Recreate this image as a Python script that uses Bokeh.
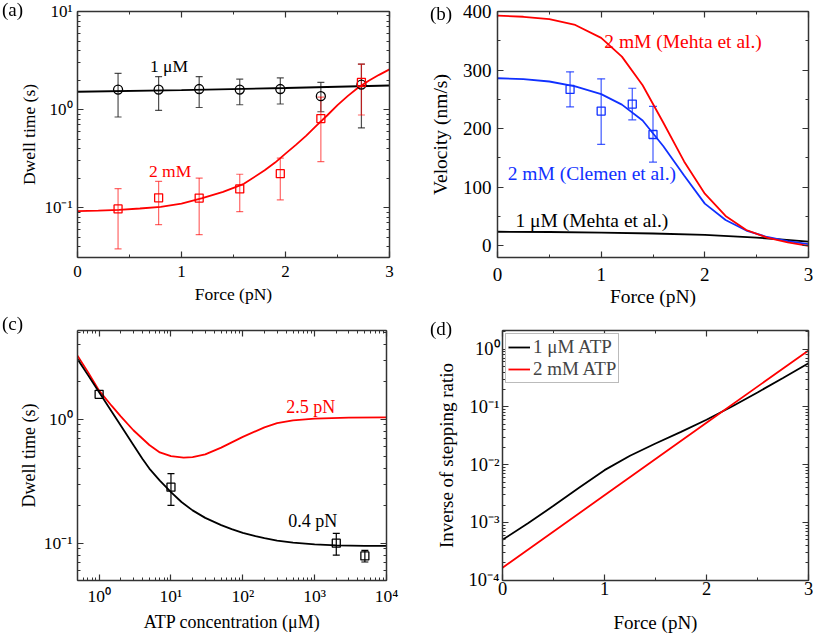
from bokeh.plotting import figure
from bokeh.models import (LinearAxis, LogAxis, SingleIntervalTicker, LogTicker,
                          CustomJSTickFormatter, Whisker, TeeHead, ColumnDataSource,
                          Label, Legend, LegendItem, Div)
from bokeh.layouts import row, column
from bokeh.embed import file_html
from bokeh.resources import INLINE

# ---------------- data ----------------
# (a) dwell time vs force
a_force = [0.39, 0.78, 1.17, 1.56, 1.95, 2.34, 2.73]
a_1uM = [1.60, 1.60, 1.62, 1.60, 1.62, 1.37, 1.80]
a_1uM_hi = [2.34, 2.17, 2.17, 2.04, 2.10, 1.89, 2.90]
a_1uM_lo = [0.84, 0.98, 1.05, 1.12, 1.14, 0.95, 0.65]
a_2mM = [0.097, 0.126, 0.125, 0.155, 0.222, 0.81, 1.89]
a_2mM_hi = [0.156, 0.185, 0.200, 0.219, 0.319, 1.34, 2.90]
a_2mM_lo = [0.038, 0.067, 0.053, 0.091, 0.120, 0.295, 0.88]
a_fit1_force = [0.0, 1.0, 2.0, 3.0]
a_fit1 = [1.52, 1.58, 1.66, 1.76]
a_fit2_force = [0.0, 0.2, 0.4, 0.6, 0.8, 1.0, 1.2, 1.4, 1.6, 1.8, 1.9, 2.0, 2.1,
                2.2, 2.3, 2.4, 2.5, 2.6, 2.7, 2.8, 2.9, 3.0]
a_fit2 = [0.092, 0.093, 0.095, 0.098, 0.102, 0.110, 0.125, 0.145, 0.175, 0.240,
          0.288, 0.355, 0.436, 0.543, 0.69, 0.87, 1.11, 1.38, 1.68, 1.97, 2.26, 2.57]

# (b) velocity vs force
b_force = [0.70, 1.00, 1.30, 1.50]
b_clemen = [267, 230, 242, 190]
b_clemen_hi = [297, 285, 269, 238]
b_clemen_lo = [237, 173, 215, 143]
b_fit_force = [0.0, 0.25, 0.5, 0.75, 1.0, 1.2, 1.4, 1.6, 1.8, 2.0, 2.2, 2.4, 2.6, 2.8, 3.0]
b_mehta_2mM = [393, 391, 387, 377, 355, 323, 274, 210, 144, 89, 51, 27, 14, 6, 0]
b_clemen_fit = [286, 284.5, 280.5, 272, 259, 241, 214, 170, 120, 72, 44, 26, 15, 8, 3]
b_mehta_1uM_force = [0.0, 0.5, 1.0, 1.5, 2.0, 2.5, 3.0]
b_mehta_1uM = [24, 23.5, 22.5, 21, 18.5, 14, 7]

# (c) dwell time vs ATP concentration
c_atp = [1, 10, 2000, 5000]
c_dwell = [1.59, 0.283, 0.100, 0.079]
c_err_atp = [10, 2000, 5000]
c_err_hi = [0.364, 0.120, 0.0875]
c_err_lo = [0.202, 0.080, 0.0705]
c_fit04_atp = [0.5, 0.7, 1, 1.5, 2, 3, 4, 5, 7, 10, 14, 20, 30, 50, 70, 100, 150,
               200, 300, 500, 1000, 2000, 5000, 10000]
c_fit_04 = [3.06, 2.27, 1.65, 1.15, 0.89, 0.62, 0.48, 0.40, 0.32, 0.258, 0.215,
            0.184, 0.160, 0.140, 0.130, 0.121, 0.114, 0.110, 0.105, 0.101, 0.098,
            0.096, 0.095, 0.095]
c_fit25_atp = [0.5, 0.7, 1, 1.5, 2, 3, 5, 7, 10, 15, 20, 30, 50, 100, 200, 300, 500,
               1000, 3000, 10000]
c_fit_25 = [3.26, 2.40, 1.70, 1.28, 1.056, 0.815, 0.62, 0.54, 0.505, 0.49, 0.495,
            0.52, 0.59, 0.72, 0.86, 0.93, 0.98, 1.01, 1.03, 1.035]

# (d) inverse stepping ratio
d_force = [0.0, 0.25, 0.5, 0.75, 1.0, 1.25, 1.5, 1.75, 2.0, 2.25, 2.5, 2.75, 3.0]
d_1uM = [5.0e-4, 9.7e-4, 1.94e-3, 3.98e-3, 8.04e-3, 1.43e-2, 2.33e-2, 3.69e-2,
         5.99e-2, 0.1018, 0.178, 0.316, 0.569]
d_2mM_force = [0.0, 1.0, 2.0, 3.0]
d_2mM = [1.65e-4, 2.95e-3, 5.3e-2, 0.95]

panel_names = ["(a)", "(b)", "(c)", "(d)"]

SERIF = "Liberation Serif"
RED = "#ff0000"
BLUE = "#1030ff"
AX = "#333333"

LOG_FMT = CustomJSTickFormatter(code="""
const e = Math.round(Math.log10(tick));
const sup = {'0':'\u2070','1':'\u00b9','2':'\u00b2','3':'\u00b3','4':'\u2074',
             '5':'\u2075','6':'\u2076','7':'\u2077','8':'\u2078','9':'\u2079','-':'\u207b'};
return '10' + String(e).split('').map(c => sup[c]).join('');
""")
BLANK_FMT = CustomJSTickFormatter(code="return '';")


def style_axis(ax, ticker, fs, labels=True, log=False, standoff=5, title_standoff=2, title_fs=None):
    ax.ticker = ticker
    ax.major_tick_in = 6
    ax.major_tick_out = 0
    ax.minor_tick_in = 3
    ax.minor_tick_out = 0
    ax.axis_line_color = AX
    ax.axis_line_width = 1.5
    ax.major_tick_line_color = AX
    ax.major_tick_line_width = 1.2
    ax.minor_tick_line_color = AX
    ax.minor_tick_line_width = 1.0
    ax.major_label_text_font = SERIF
    ax.major_label_text_color = "black"
    ax.axis_label_text_font = SERIF
    ax.axis_label_text_font_style = "normal"
    ax.axis_label_text_color = "black"
    ax.axis_label_text_font_size = title_fs or fs
    if labels:
        if log:
            ax.formatter = LOG_FMT
        ax.major_label_text_font_size = fs
        ax.major_label_standoff = standoff
        ax.axis_label_standoff = title_standoff
    else:
        ax.formatter = BLANK_FMT
        ax.major_label_text_font_size = "1px"
        ax.major_label_standoff = 0
        ax.axis_label = None


def make_fig(width, height, borders, x_range, y_range, x_log, y_log,
             x_ticker, y_ticker, fs, title_fs, xlabel, ylabel,
             x_standoffs, y_standoffs):
    l, r, t, b = borders
    p = figure(width=width, height=height, x_range=x_range, y_range=y_range,
               x_axis_type="log" if x_log else "linear",
               y_axis_type="log" if y_log else "linear",
               output_backend="svg", toolbar_location=None,
               min_border_left=l, min_border_right=r, min_border_top=t, min_border_bottom=b)
    p.grid.visible = False
    p.outline_line_color = None
    p.background_fill_color = "white"
    p.border_fill_color = "white"
    p.xaxis.axis_label = xlabel
    p.yaxis.axis_label = ylabel
    style_axis(p.xaxis[0], x_ticker, fs, log=x_log, standoff=x_standoffs[0],
               title_standoff=x_standoffs[1], title_fs=title_fs)
    style_axis(p.yaxis[0], y_ticker, fs, log=y_log, standoff=y_standoffs[0],
               title_standoff=y_standoffs[1], title_fs=title_fs)
    top = LogAxis() if x_log else LinearAxis()
    right = LogAxis() if y_log else LinearAxis()
    style_axis(top, x_ticker, fs, labels=False, log=x_log)
    style_axis(right, y_ticker, fs, labels=False, log=y_log)
    p.add_layout(top, "above")
    p.add_layout(right, "right")
    return p


def text_label(p, text, x, y, color, fs):
    p.add_layout(Label(x=x, y=y, text=text, text_font=SERIF, text_font_size=fs,
                       text_color=color, text_align="center", text_baseline="middle"))


def panel_div(text, left, top):
    return Div(text=text, width=28, height=22,
               styles={"position": "fixed", "left": f"{left}px", "top": f"{top}px",
                       "z-index": "10", "font-family": "'Liberation Serif', serif",
                       "font-size": "19px", "line-height": "20px", "color": "black",
                       "margin": "0", "padding": "0"})


lin_x = SingleIntervalTicker(interval=1, num_minor_ticks=2)
log_t = LogTicker(num_minor_ticks=10)

# ---------------- (a) ----------------
pa = make_fig(404, 315, (77, 15, 11, 53), (0, 3), (0.031, 10.001), False, True,
              lin_x, log_t, "17px", "17.5px", "Force (pN)", "Dwell time (s)",
              (8, 4), (5, 2))
pa.line(a_fit1_force, a_fit1, line_color="black", line_width=1.8)
pa.line(a_fit2_force, a_fit2, line_color=RED, line_width=1.8)
sa1 = ColumnDataSource(dict(x=a_force, y=a_1uM, hi=a_1uM_hi, lo=a_1uM_lo))
sa2 = ColumnDataSource(dict(x=a_force, y=a_2mM, hi=a_2mM_hi, lo=a_2mM_lo))
pa.add_layout(Whisker(source=sa1, base="x", upper="hi", lower="lo", line_color="#222222",
                      line_alpha=0.8, line_width=1.2,
                      upper_head=TeeHead(size=7, line_color="#222222", line_alpha=0.8, line_width=1.2),
                      lower_head=TeeHead(size=7, line_color="#222222", line_alpha=0.8, line_width=1.2)))
pa.scatter("x", "y", source=sa1, marker="circle", size=9, fill_color=None,
           line_color="black", line_width=1.3)
pa.add_layout(Whisker(source=sa2, base="x", upper="hi", lower="lo", line_color=RED,
                      line_alpha=0.6, line_width=1.2,
                      upper_head=TeeHead(size=7, line_color=RED, line_alpha=0.6, line_width=1.2),
                      lower_head=TeeHead(size=7, line_color=RED, line_alpha=0.6, line_width=1.2)))
pa.scatter("x", "y", source=sa2, marker="square", size=8, fill_color=None,
           line_color=RED, line_width=1.3)
text_label(pa, "1 μM", 0.88, 2.75, "black", "17.5px")
text_label(pa, "2 mM", 0.89, 0.234, RED, "17.5px")

# ---------------- (b) ----------------
pb = make_fig(409, 315, (93, 5, 11, 58), (0, 3), (-20, 400), False, False,
              lin_x, SingleIntervalTicker(interval=100, num_minor_ticks=2),
              "19px", "19.5px", "Force (pN)", "Velocity (nm/s)", (10, 2), (6, 9))
pb.line(b_mehta_1uM_force, b_mehta_1uM, line_color="black", line_width=1.8)
pb.line(b_fit_force, b_clemen_fit, line_color=BLUE, line_width=1.8)
pb.line(b_fit_force, b_mehta_2mM, line_color=RED, line_width=1.8)
sb = ColumnDataSource(dict(x=b_force, y=b_clemen, hi=b_clemen_hi, lo=b_clemen_lo))
pb.add_layout(Whisker(source=sb, base="x", upper="hi", lower="lo", line_color=BLUE,
                      line_alpha=0.8, line_width=1.2,
                      upper_head=TeeHead(size=8, line_color=BLUE, line_alpha=0.8, line_width=1.2),
                      lower_head=TeeHead(size=8, line_color=BLUE, line_alpha=0.8, line_width=1.2)))
pb.scatter("x", "y", source=sb, marker="square", size=8, fill_color=None,
           line_color=BLUE, line_width=1.3)
text_label(pb, "2 mM (Mehta et al.)", 1.79, 348, RED, "19.5px")
text_label(pb, "2 mM (Clemen et al.)", 0.91, 123, BLUE, "19.5px")
text_label(pb, "1 μM (Mehta et al.)", 0.91, 43, "black", "19.5px")

# ---------------- (c) ----------------
pc = make_fig(404, 320, (77, 18, 12, 51), (0.5, 10001), (0.05, 5.2), True, True,
              LogTicker(num_minor_ticks=10), log_t, "17.5px", "18px",
              "ATP concentration (μM)", "Dwell time (s)", (5, 3), (5, 2))
pc.line(c_fit25_atp, c_fit_25, line_color=RED, line_width=1.8)
pc.line(c_fit04_atp, c_fit_04, line_color="black", line_width=1.8)
sc = ColumnDataSource(dict(x=c_err_atp, hi=c_err_hi, lo=c_err_lo))
pc.add_layout(Whisker(source=sc, base="x", upper="hi", lower="lo", line_color="black",
                      line_width=1.2,
                      upper_head=TeeHead(size=7, line_color="black", line_width=1.2),
                      lower_head=TeeHead(size=7, line_color="black", line_width=1.2)))
pc.scatter(c_atp, c_dwell, marker="square", size=8, fill_color=None,
           line_color="black", line_width=1.3)
text_label(pc, "2.5 pN", 880, 1.25, RED, "18px")
text_label(pc, "0.4 pN", 940, 0.152, "black", "18px")

# ---------------- (d) ----------------
pd_ = make_fig(409, 320, (98, 5, 15, 52), (0, 3), (0.99e-4, 2.1), False, True,
               lin_x, log_t, "18.5px", "19px", "Force (pN)", "Inverse of stepping ratio",
               (1, 14), (3, 9))
r1 = pd_.line(d_force, d_1uM, line_color="black", line_width=1.8)
r2 = pd_.line(d_2mM_force, d_2mM, line_color=RED, line_width=1.8)
legend = Legend(items=[LegendItem(label="1 μM ATP", renderers=[r1]),
                       LegendItem(label="2 mM ATP", renderers=[r2])],
                location="top_left", margin=3, padding=2, spacing=0,
                label_text_font=SERIF, label_text_font_size="19px",
                label_height=20, glyph_height=20, glyph_width=22, label_standoff=3,
                border_line_color="#777777", border_line_width=1,
                background_fill_color="white", background_fill_alpha=1)
pd_.add_layout(legend)

labels = [panel_div(panel_names[0], 2, 0), panel_div(panel_names[1], 430, 4),
          panel_div(panel_names[2], 2, 314), panel_div(panel_names[3], 430, 319)]

layout = column(*labels, row(pa, pb), row(pc, pd_))
open("out.html", "w").write(file_html(layout, INLINE))
